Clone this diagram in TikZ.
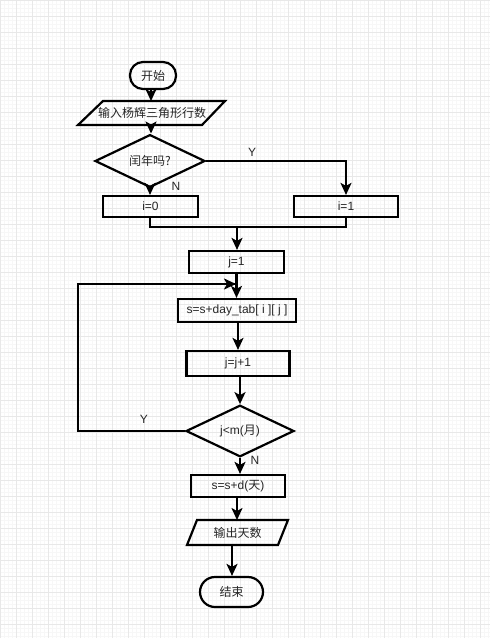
\documentclass[tikz,border=0pt]{standalone}
\usepackage{fontspec}
\setmainfont{Liberation Sans}
\newfontfamily\cjk{Noto Sans CJK SC}
\usetikzlibrary{shapes.geometric,arrows.meta,calc}
\begin{document}
\begin{tikzpicture}[x=1pt,y=-1pt,
  font=\fontsize{12}{14}\selectfont,
  every node/.style={inner sep=0pt,text=black!85},
  proc/.style={draw,line width=2.2pt,rectangle,text=black!85},
  term/.style={draw,line width=2.2pt,rectangle,rounded corners=13pt},
  dec/.style={draw,line width=2.2pt,diamond},
  io/.style={rectangle},
  lab/.style={text=black!85},
  flow/.style={line width=2.2pt,-{Stealth[length=12pt,width=11pt,inset=3pt]}},
  wire/.style={line width=2.2pt},
  gridmin/.style={draw=black!3,line width=0.5pt},
  gridmaj/.style={draw=black!9,line width=0.8pt}]
\useasboundingbox (0,0) rectangle (490,638);
\fill[white] (0,0) rectangle (490,638);
% grid
\foreach \x in {0,4,...,490} \draw[gridmin] (\x,0) -- (\x,638);
\foreach \y in {0,4,...,638} \draw[gridmin] (0,\y) -- (490,\y);
\foreach \x in {0,16,...,490} \draw[gridmaj] (\x,0) -- (\x,638);
\foreach \y in {0,16,...,638} \draw[gridmaj] (0,\y) -- (490,\y);

% nodes
\node[term,minimum width=46pt,minimum height=27pt] (start) at (153,75.5) {\cjk 开始};
\node[io,minimum width=122pt,minimum height=24pt] (in) at (152,113) {\cjk 输入杨辉三角形行数};
\draw[line width=2.2pt,line join=miter] ($(in.center)+(-49,-12)$) -- ($(in.center)+(73,-12)$) -- ($(in.center)+(50,12)$) -- ($(in.center)+(-74,12)$) -- cycle;
\node[dec,minimum width=110pt,minimum height=37pt] (d1) at (150,161) {\cjk 闰年吗?};
\node[proc,minimum width=95pt,minimum height=21pt] (i0) at (150.5,206.5) {i=0};
\node[proc,minimum width=104pt,minimum height=21pt] (i1) at (346,206.5) {i=1};
\node[proc,minimum width=95pt,minimum height=22pt] (j1) at (236.5,262) {j=1};
\node[proc,minimum width=118pt,minimum height=23pt] (s1) at (237,310.5) {s=s+day\_tab[ i ][ j ]};
\node[proc,minimum width=103pt,minimum height=25pt] (j2) at (238,363.5) {j=j+1};
\node[dec,minimum width=108pt,minimum height=39pt] (d2) at (240,431) {j<m({\cjk 月})};
\node[proc,minimum width=94pt,minimum height=22pt] (s2) at (238,486) {s=s+d({\cjk 天})};
\node[io,minimum width=91pt,minimum height=25pt] (out) at (237.5,532.5) {\cjk 输出天数};
\draw[line width=2.2pt,line join=miter] ($(out.center)+(-40.5,-12.5)$) -- ($(out.center)+(50.5,-12.5)$) -- ($(out.center)+(40.5,12.5)$) -- ($(out.center)+(-50.5,12.5)$) -- cycle;
\node[term,minimum width=63pt,minimum height=30pt,rounded corners=15pt] (end) at (231.5,592) {\cjk 结束};

% labels
\node[lab] (ly1) at (252,152) {Y};
\node[lab] (ln1) at (176,186) {N};
\node[lab] (ly2) at (144,419) {Y};
\node[lab] (ln2) at (255,460) {N};

% coordinates
\coordinate (inS) at (151,125);
\coordinate (merge) at (237,227);
\coordinate (loopA) at (78,431);
\coordinate (loopB) at (78,284);
\coordinate (loopC) at (236,284);
\coordinate (outS) at (232,545);

% connectors
\draw[flow] (start.south -| 151,0) -- (151,101);
\draw[flow] (inS) -- (d1.north -| inS);
\draw[flow] (d1.south) -- (i0.north -| d1.south);
\draw[flow] (d1.east) -| (i1.north);
\draw[wire] (i0.south -| d1.south) |- (merge) -| (i1.south);
\draw[flow] (merge) -- (j1.north -| merge);
\draw[flow] (j1.south) -- (s1.north -| j1.south);
\draw[flow] (s1.south -| 238,0) -- (j2.north);
\draw[flow] (j2.south -| d2.north) -- (d2.north);
\draw[wire] (d2.west) -- (loopA) -- (loopB) -- (loopC);
\draw[flow] (loopB) -- (loopC);
\draw[flow] (d2.south) -- (s2.north -| d2.south);
\draw[flow] (s2.south -| 237,0) -- (237,520);
\draw[flow] (outS) -- (end.north -| outS);
\end{tikzpicture}
\end{document}
